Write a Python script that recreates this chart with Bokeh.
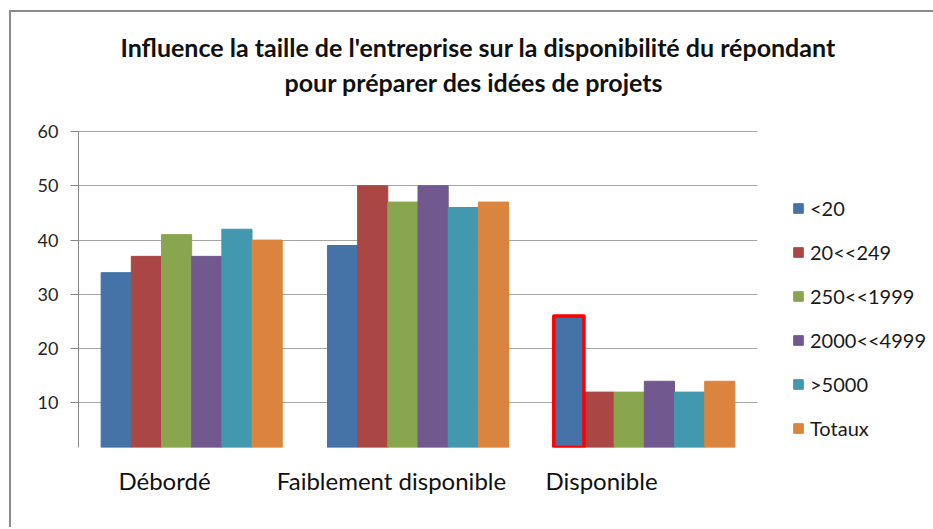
from bokeh.plotting import figure
from bokeh.models import (Range1d, FixedTicker, Legend, LegendItem,
                          ColumnDataSource, Title)
from bokeh.transform import dodge
from bokeh.embed import file_html
from bokeh.resources import INLINE

# ---------------- data ----------------
title_lines = ["Influence la taille de l'entreprise sur la disponibilité du répondant",
               "pour préparer des idées de projets"]
categories = ["Débordé", "Faiblement disponible", "Disponible"]
series_names = ["<20", "20<<249", "250<<1999", "2000<<4999", ">5000", "Totaux"]
v_lt20 = [34, 39, 26]
v_20_249 = [37, 50, 12]
v_250_1999 = [41, 47, 12]
v_2000_4999 = [37, 50, 14]
v_gt5000 = [42, 46, 12]
v_totaux = [40, 47, 14]
series_values = [v_lt20, v_20_249, v_250_1999, v_2000_4999, v_gt5000, v_totaux]
highlight_category = "Disponible"   # bar of series "<20" outlined in red
y_ticks = [10, 20, 30, 40, 50, 60]
y_start, y_axis_top = 1.8, 60

# ---------------- style ----------------
colors = ["#4572A7", "#AA4643", "#89A54E", "#71588F", "#4198AF", "#DB843D"]
FONT = "Lato"
# label anchor positions along the category axis (Excel places them left of the groups)
label_pos = [0.38, 1.383, 2.311]
# frame extends a little above the axis top so the titles can sit close to it
y_view_end = 65.89

ncat = len(categories)
cat_center = [k + 0.5 for k in range(ncat)]   # category slot centres on the x scale

p = figure(x_range=Range1d(0, ncat), y_range=Range1d(y_start, y_view_end),
           width=920, height=515, frame_width=679, frame_height=348,
           output_backend="svg", toolbar_location=None,
           min_border_left=67, min_border_top=87, min_border_bottom=80,
           min_border_right=174, title=title_lines[0])
p.styles = {"border-top": "2px solid #8c8c8c", "border-left": "2px solid #8c8c8c",
            "margin-left": "9px", "margin-top": "10px"}
p.background_fill_color = "white"
p.border_fill_color = "white"
p.outline_line_color = None

# titles (p.title = top line, added Title = line closest to the plot)
p.title.text_font = FONT
p.title.text_font_style = "bold"
p.title.text_font_size = "25px"
p.title.text_color = "#111111"
p.title.align = "left"
p.title.offset = 42
p.title.standoff = 0
t2 = Title(text=title_lines[1], text_font=FONT, text_font_style="bold",
           text_font_size="25px", text_color="#111111", align="left",
           offset=206, standoff=6)
p.add_layout(t2, "above")

n = len(series_names)
bar_w = 0.8 / n
renderers = []
for i, (name, vals) in enumerate(zip(series_names, series_values)):
    src = ColumnDataSource(dict(x=cat_center, cat=categories, val=vals))
    r = p.vbar(x=dodge("x", (i - (n - 1) / 2) * bar_w),
               top="val", bottom=0, width=bar_w, source=src,
               fill_color=colors[i], line_color=colors[i], line_width=1)
    renderers.append(r)

# red outline on highlighted bar
hi_idx = categories.index(highlight_category)
hsrc = ColumnDataSource(dict(x=[cat_center[hi_idx]], val=[v_lt20[hi_idx]]))
p.vbar(x=dodge("x", (0 - (n - 1) / 2) * bar_w),
       top="val", bottom=0, width=bar_w, source=hsrc,
       fill_alpha=0, line_color="#ff0000", line_width=3.5, line_join="round")

# y axis
p.xgrid.grid_line_color = None
p.yaxis.ticker = FixedTicker(ticks=y_ticks)
p.yaxis.bounds = (y_start, y_axis_top)
p.yaxis.axis_line_color = "#868686"
p.yaxis.major_tick_line_color = "#868686"
p.yaxis.major_tick_out = 8
p.yaxis.major_tick_in = 0
p.yaxis.minor_tick_line_color = None
p.yaxis.major_label_text_font = FONT
p.yaxis.major_label_text_font_size = "18px"
p.yaxis.major_label_text_color = "#262626"
p.yaxis.major_label_standoff = 12
p.ygrid.grid_line_color = "#a6a6a6"
p.ygrid.grid_line_width = 1

# category label axis
xa = p.xaxis[0]
xa.ticker = FixedTicker(ticks=label_pos)
xa.major_label_overrides = dict(zip(label_pos, categories))
xa.axis_line_color = None
xa.major_tick_line_color = None
xa.minor_tick_line_color = None
xa.major_label_text_font = FONT
xa.major_label_text_font_size = "24px"
xa.major_label_text_color = "#111111"
xa.major_label_standoff = 12

legend = Legend(items=[LegendItem(label=nm, renderers=[r]) for nm, r in zip(series_names, renderers)],
                location=(35, 7), orientation="vertical",
                glyph_width=12, glyph_height=12, label_standoff=6,
                label_height=16, spacing=20, padding=0, margin=0,
                border_line_color=None, background_fill_alpha=0,
                label_text_font=FONT, label_text_font_size="20px",
                label_text_color="#1a1a1a")
p.add_layout(legend, "right")

open("out.html", "w").write(file_html(p, INLINE))
